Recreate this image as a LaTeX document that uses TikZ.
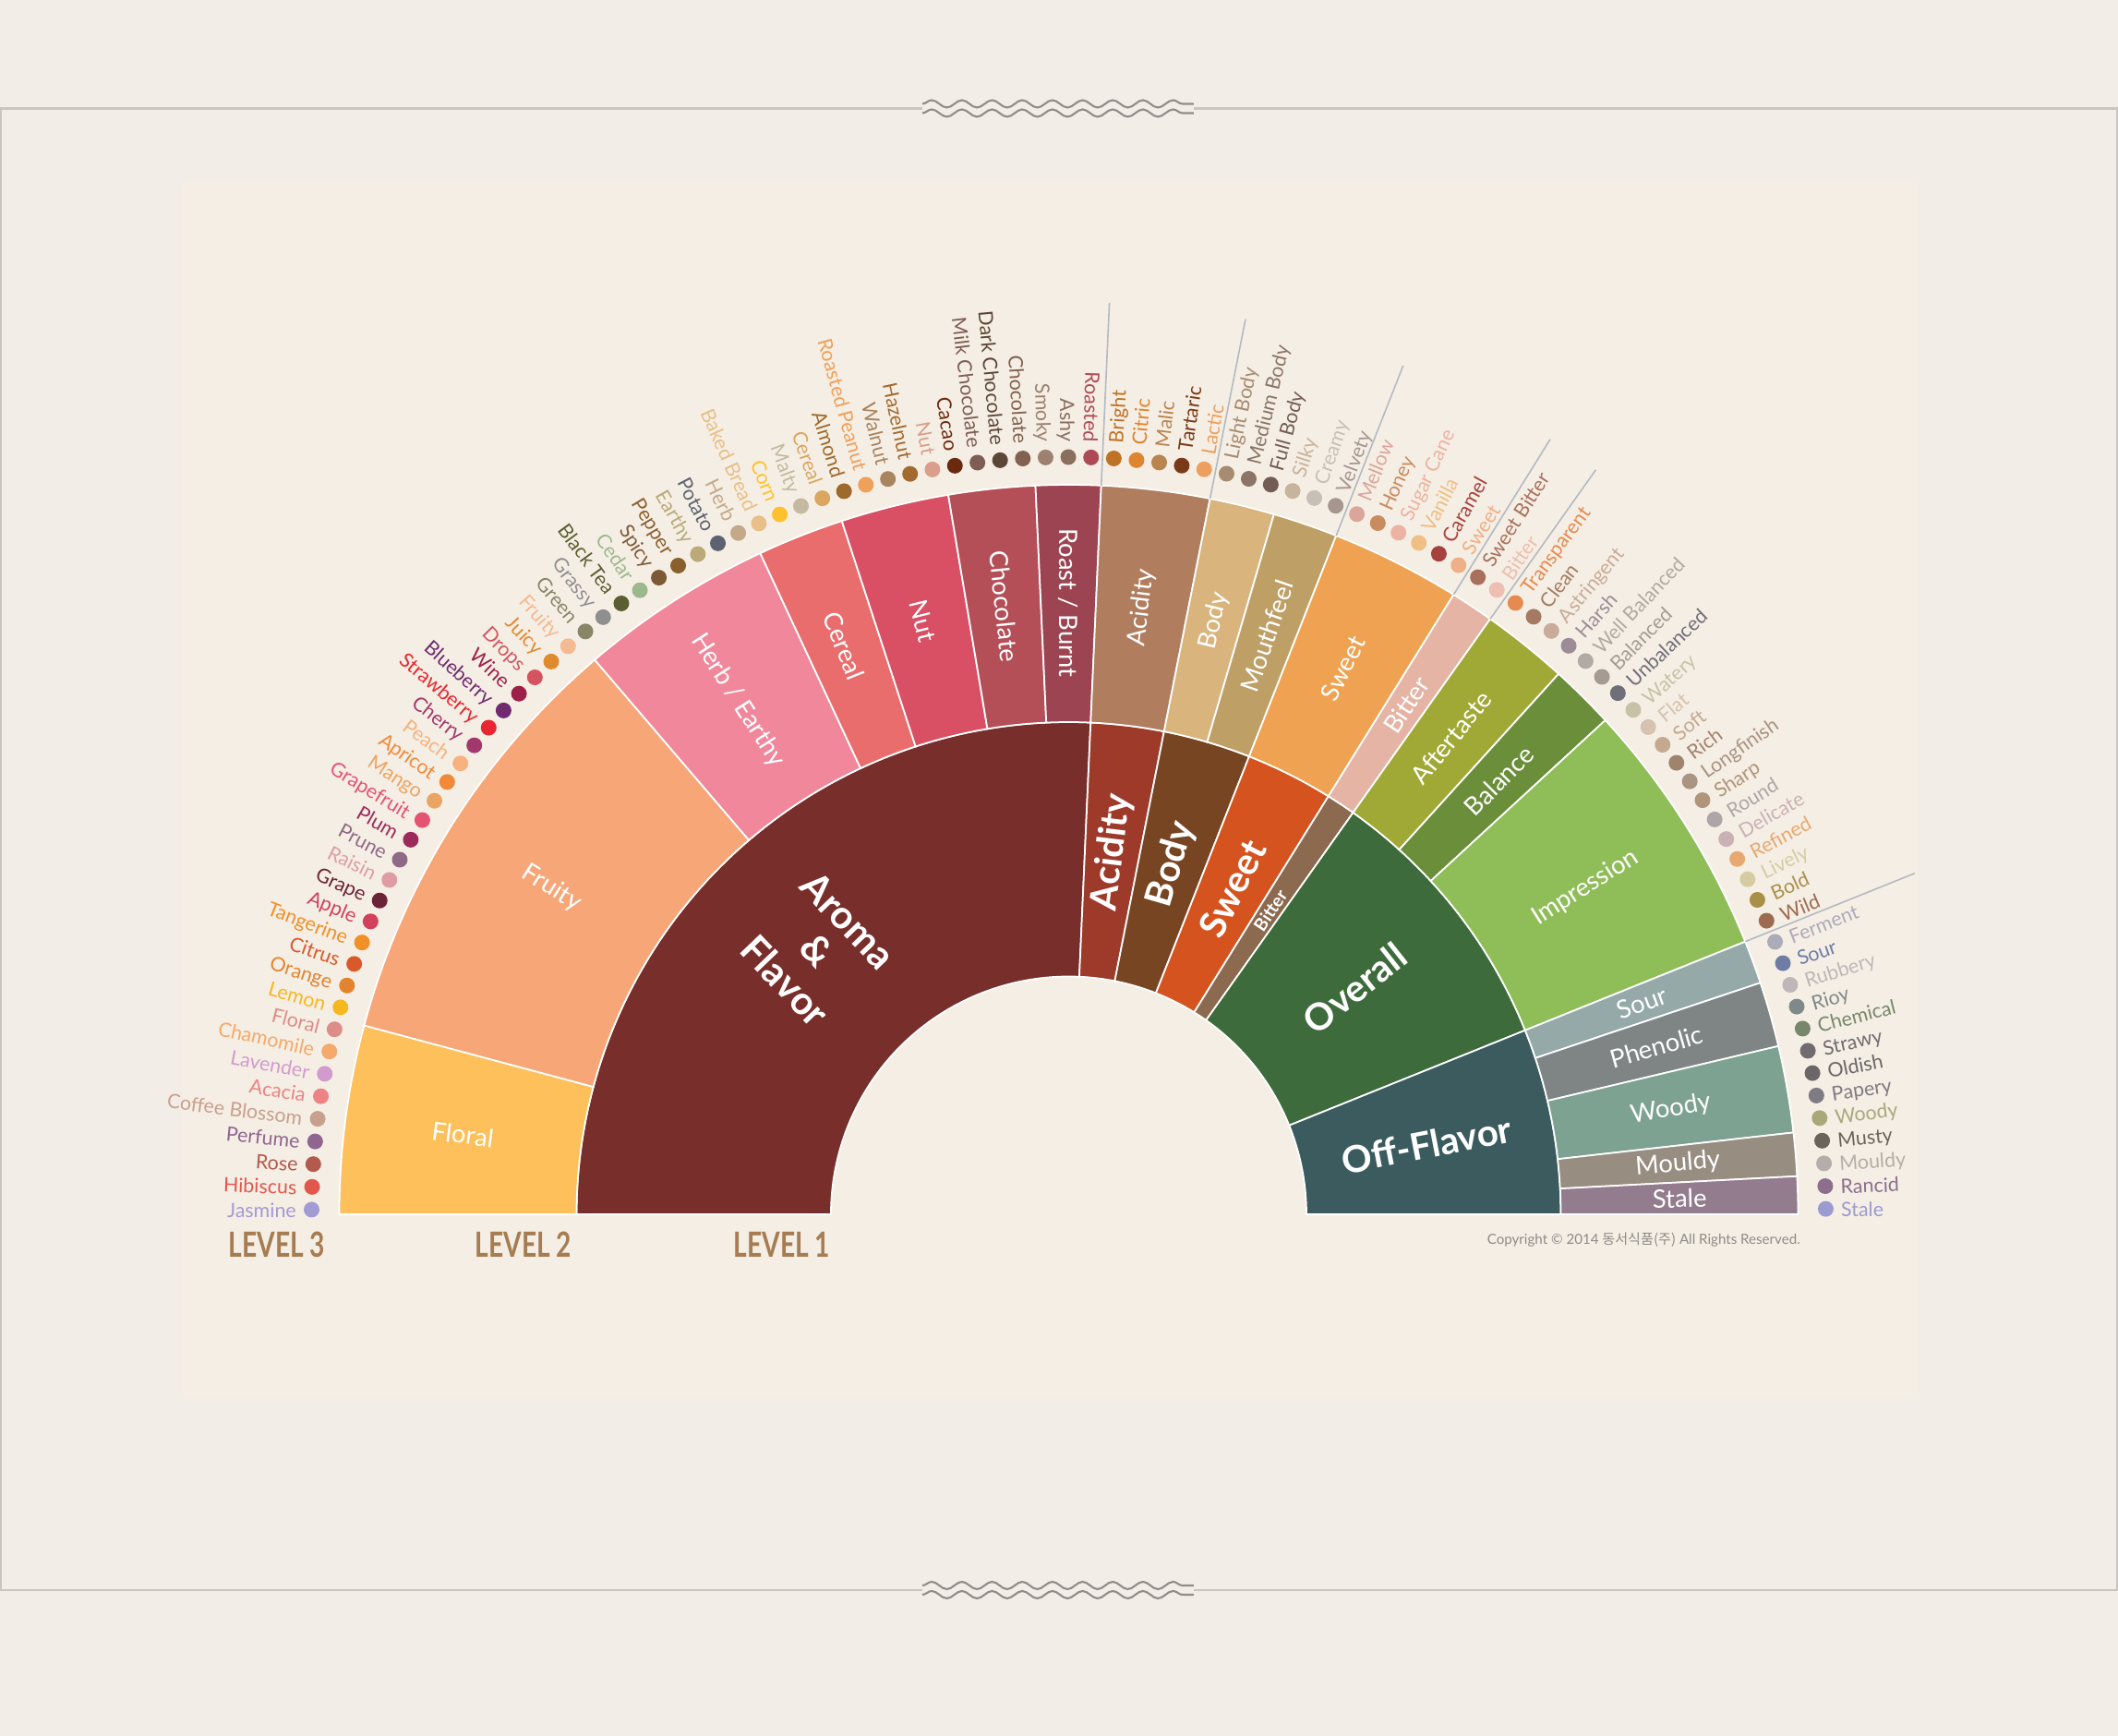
\documentclass[tikz,border=0pt]{standalone}
\usepackage{fontspec}
\setmainfont{Lato}
\newfontfamily\krfont{Noto Sans CJK KR}
\usetikzlibrary{decorations.pathmorphing}

\definecolor{pagebg}{HTML}{F2EDE6}
\definecolor{panelbg}{HTML}{F5EEE4}
\definecolor{framegrey}{HTML}{C9C6C2}
\definecolor{wavegrey}{HTML}{8F8D8B}
\definecolor{sepgrey}{HTML}{B3B9C3}
\definecolor{levelbrown}{HTML}{A67C52}
\definecolor{copygrey}{HTML}{8C8A88}

\begin{document}
\begin{tikzpicture}[
  ring/.style={draw=white,line width=.5pt},
  sepline/.style={sepgrey,line width=.45pt},
  wave/.style={wavegrey,line width=.6pt,decorate,
    decoration={snake,segment length=3.2667mm,amplitude=.4mm}},
  lone/.style={text=white,inner sep=0pt,align=center},
  ltwo/.style={text=white,font=\fontsize{7.8}{9}\selectfont,inner sep=0pt},
  lthree/.style={font=\fontsize{6.1}{7}\selectfont,inner sep=0pt},
  levtag/.style={text=levelbrown,font=\fontsize{10.7}{12}\selectfont\bfseries,inner sep=0pt}]
  \def\ra{2.575}
  \def\rb{5.33}
  \def\rc{7.90}
  \def\rd{8.20}
  \def\re{8.36}
  \def\rf{9.88}
  \def\st{1.7235}
  % Page, panel and the frame with its two wavy breaks.
  \fill[pagebg,use as bounding box] (-11.575,-5.65) rectangle (11.365,13.15);
  \fill[panelbg] (-9.605,-1.99) rectangle (9.195,11.18);
  \draw[framegrey,line width=.6pt] (-11.565,-4.07) rectangle (11.355,11.975);
  \fill[pagebg] (-1.585,11.9) rectangle (1.355,12.05);
  \fill[pagebg] (-1.585,-4.145) rectangle (1.355,-3.995);
  \foreach \y in {11.975,-4.07} {
    \draw[wave] (-1.585,\y+0.05) -- (1.355,\y+0.05);
    \draw[wave] (-1.585,\y-0.05) -- (1.355,\y-0.05);
  }
  % Level 1 ring.
  \foreach \a/\b/\col/\fs/\txt in {0/54/782E2A/12/{Aroma\\\&\\Flavor},54/59/9E3A2A/11.5/Acidity,
      59/65/774522/11.5/Body,65/71/D4531E/11.5/Sweet,71/73/8B6A4F/5.5/Bitter,
      73/92/3E6B3B/11.5/Overall,92/105/3B5B5F/11.5/Off-Flavor} {
    \pgfmathsetmacro{\ta}{min(180,180.51-\a*\st)}
    \pgfmathsetmacro{\tb}{max(0,180.51-\b*\st)}
    \pgfmathsetmacro{\tm}{(\ta+\tb)/2}
    \pgfmathsetmacro{\rot}{\tm>90 ? \tm-180 : \tm}
    \definecolor{wc}{HTML}{\col}
    \filldraw[ring,fill=wc] (\ta:\ra) arc[start angle=\ta,end angle=\tb,radius=\ra]
      -- (\tb:\rb) arc[start angle=\tb,end angle=\ta,radius=\rb] -- cycle;
    \node[lone,font=\fontsize{\fs}{13.5}\selectfont\bfseries,rotate=\rot] (one-\a) at (\tm:3.95) {\txt};
  }
  % Level 2 ring.
  \foreach \a/\b/\col/\txt in {0/9/FEC05A/Floral,9/29/F7A677/Fruity,29/38/F0879B/{Herb / Earthy},
      38/42/E96D6C/Cereal,42/47/D94F63/Nut,47/51/B44F58/Chocolate,51/54/9C4452/{Roast / Burnt},
      54/59/B07E5F/Acidity,59/62/D9B47D/Body,62/65/BEA067/Mouthfeel,65/71/EFA251/Sweet,
      71/73/E5B4A4/Bitter,73/77/A0A936/Aftertaste,77/80/6B8E3B/Balance,80/92/8FBD57/Impression,
      92/94/95A9A9/Sour,94/97/7F8585/Phenolic,97/101/7EA292/Woody,101/103/978D81/Mouldy,
      103/105/927C8E/Stale} {
    \pgfmathsetmacro{\ta}{min(180,180.51-\a*\st)}
    \pgfmathsetmacro{\tb}{max(0,180.51-\b*\st)}
    \pgfmathsetmacro{\tm}{(\ta+\tb)/2}
    \pgfmathsetmacro{\rot}{\tm>90 ? \tm-180 : \tm}
    \definecolor{wc}{HTML}{\col}
    \filldraw[ring,fill=wc] (\ta:\rb) arc[start angle=\ta,end angle=\tb,radius=\rb]
      -- (\tb:\rc) arc[start angle=\tb,end angle=\ta,radius=\rc] -- cycle;
    \node[ltwo,rotate=\rot] (two-\a) at (\tm:6.62) {\txt};
  }
  % Level 3: one dot and one word per note.
  \foreach \txt/\col [count=\i from 0] in {Jasmine/A39BD3,Hibiscus/E2574D,Rose/B25A4F,Perfume/8F6690,
      Coffee Blossom/C9A08F,Acacia/EE8386,Lavender/D29BCE,Chamomile/F5A96A,Floral/DC8D88,
      Lemon/F6B820,Orange/E2842F,Citrus/D85A2B,Tangerine/F38F27,Apple/D2405C,Grape/6D2337,
      Raisin/DE9DA4,Prune/8E6A86,Plum/9C2B5B,Grapefruit/E55373,Mango/EBA464,Apricot/F28939,
      Peach/F6B37F,Cherry/A2396D,Strawberry/E8262F,Blueberry/6F2A70,Wine/9D2049,Drops/D45561,
      Juicy/E08A30,Fruity/F4BA91,Green/888569,Grassy/8F8F90,Black Tea/5A5E32,Cedar/9CB98E,
      Spicy/7C5A36,Pepper/8A5F2E,Earthy/BBA978,Potato/5C6270,Herb/C3A987,Baked Bread/E8BF88,
      Corn/FEC12E,Malty/C4BAA1,Cereal/DAA660,Almond/9D6A2B,Roasted Peanut/EFA05B,Walnut/A8845F,
      Hazelnut/A26A2F,Nut/DA9F8B,Cacao/6B2A0E,Milk Chocolate/7E5D56,Dark Chocolate/5C4638,
      Chocolate/81614F,Smoky/9D806F,Ashy/8A6F5F,Roasted/AE4A56,Bright/BE7226,Citric/DF842F,
      Malic/B9844F,Tartaric/7A3A17,Lactic/EBA05F,Light Body/A78B70,Medium Body/8A7567,
      Full Body/735C54,Silky/C8B39C,Creamy/C9BFB9,Velvety/A5978F,Mellow/DAA69B,Honey/C98B5F,
      Sugar Cane/EDB3A2,Vanilla/F0BF84,Caramel/A7413D,Sweet/EFAF87,Sweet Bitter/A9715D,
      Bitter/EDBEB1,Transparent/E58B51,Clean/A47B62,Astringent/C9AB99,Harsh/9D8C98,
      Well Balanced/B1A9A3,Balanced/A69B93,Unbalanced/6F6F79,Watery/C5C3A7,Flat/D5C3AF,
      Soft/C5A98F,Rich/9F836D,Longfinish/A99381,Sharp/AF9579,Round/AFA5A7,Delicate/C9B1B5,
      Refined/E7A971,Lively/D5CDA1,Bold/A99049,Wild/9D6B4F,Ferment/ACACB9,Sour/6F7DA5,
      Rubbery/BDB7B9,Rioy/7F8989,Chemical/77876B,Strawy/6F6B6F,Oldish/6B6769,Papery/7F7B83,
      Woody/A7A97B,Musty/6B6559,Mouldy/B5ADA9,Rancid/8B6F8D,Stale/9B9BD1} {
    \pgfmathsetmacro{\ang}{179.65-\i*\st}
    \definecolor{dc}{HTML}{\col}
    \fill[dc] (\ang:\rd) circle (.085);
    \ifnum\i<54
      \node[lthree,text=dc,rotate=\ang-180,anchor=mid east] (lab-\i) at (\ang:\re) {\txt};
    \else
      \node[lthree,text=dc,rotate=\ang,anchor=mid west] (lab-\i) at (\ang:\re) {\txt};
    \fi
  }
  % Thin rules between the level 1 groups, outside the wheel.
  \foreach \k in {54,59,65,71,73,92} {
    \pgfmathsetmacro{\ta}{180.51-\k*\st}
    \draw[sepline] (\ta:\rc) -- (\ta:\rf);
  }
  % Level tags and copyright line.
  \node[levtag] (tag-3) at (-8.575,-0.33) {\scalebox{.75}[1]{LEVEL 3}};
  \node[levtag] (tag-2) at (-5.905,-0.33) {\scalebox{.75}[1]{LEVEL 2}};
  \node[levtag] (tag-1) at (-3.105,-0.33) {\scalebox{.75}[1]{LEVEL 1}};
  \node[text=copygrey,font=\fontsize{4.3}{5}\selectfont,anchor=east,inner sep=0pt] (copy) at (7.93,-0.28)
    {Copyright © 2014 {\krfont 동서식품(주)} All Rights Reserved.};
\end{tikzpicture}
\end{document}
